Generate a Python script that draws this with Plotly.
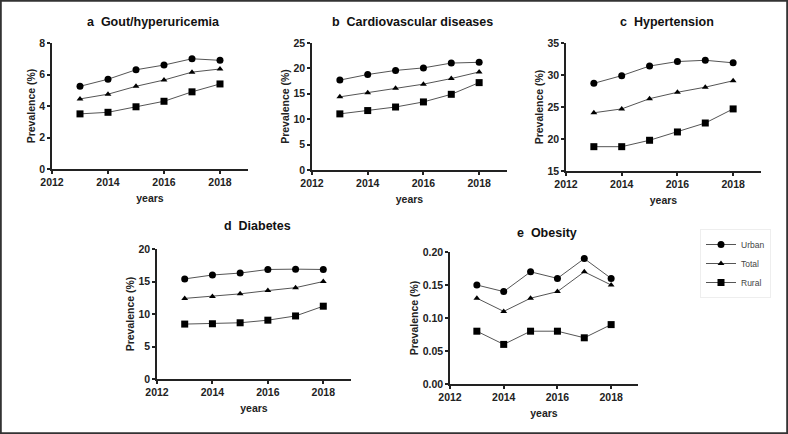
import plotly.graph_objects as go

years = [2013, 2014, 2015, 2016, 2017, 2018]
series_names = ["Urban", "Total", "Rural"]

gout_urban = [5.25, 5.7, 6.3, 6.6, 7.0, 6.9]
gout_total = [4.45, 4.75, 5.25, 5.65, 6.15, 6.35]
gout_rural = [3.5, 3.6, 3.95, 4.3, 4.9, 5.4]

cvd_urban = [17.7, 18.8, 19.6, 20.1, 21.05, 21.2]
cvd_total = [14.4, 15.2, 16.1, 16.9, 18.0, 19.3]
cvd_rural = [11.05, 11.7, 12.4, 13.4, 14.9, 17.2]

htn_urban = [28.7, 29.9, 31.4, 32.1, 32.3, 31.9]
htn_total = [24.1, 24.7, 26.3, 27.3, 28.1, 29.1]
htn_rural = [18.8, 18.8, 19.8, 21.1, 22.5, 24.7]

dia_urban = [15.4, 16.0, 16.3, 16.85, 16.9, 16.85]
dia_total = [12.4, 12.7, 13.1, 13.6, 14.05, 15.0]
dia_rural = [8.45, 8.5, 8.65, 9.05, 9.7, 11.2]

obe_urban = [0.15, 0.14, 0.17, 0.16, 0.19, 0.16]
obe_total = [0.13, 0.11, 0.13, 0.14, 0.17, 0.15]
obe_rural = [0.08, 0.06, 0.08, 0.08, 0.07, 0.09]

titles = ["<b>a  Gout/hyperuricemia</b>", "<b>b  Cardiovascular diseases</b>",
          "<b>c  Hypertension</b>", "<b>d  Diabetes</b>", "<b>e  Obesity</b>"]
panels = [
    (gout_urban, gout_total, gout_rural),
    (cvd_urban, cvd_total, cvd_rural),
    (htn_urban, htn_total, htn_rural),
    (dia_urban, dia_total, dia_rural),
    (obe_urban, obe_total, obe_rural),
]
y_ranges = [[0, 8], [0, 25], [15, 35], [0, 20], [0, 0.2]]
y_dticks = [2, 5, 5, 5, 0.05]
y_fmt = ["", "", "", "", ".2f"]

W, H = 788, 434
# pixel boxes (left, right, top, bottom)
boxes = [(52, 248, 43, 169), (312, 507, 43, 170), (566, 761, 43, 171),
         (157, 351, 249, 379), (450, 638, 252, 384)]
title_centers = [(153, 22), (412, 22), (667, 22), (257, 226), (547, 233)]

markers = ["circle", "triangle-up", "square"]
msizes = [7, 6, 7]

fig = go.Figure()
font_fam = "Liberation Sans, Arial, sans-serif"
for i, (vals, box) in enumerate(zip(panels, boxes)):
    xa = "x" if i == 0 else f"x{i+1}"
    ya = "y" if i == 0 else f"y{i+1}"
    for j, v in enumerate(vals):
        fig.add_trace(go.Scatter(
            x=years, y=v, mode="lines+markers", name=series_names[j],
            xaxis=xa, yaxis=ya, showlegend=(i == 4),
            line=dict(color="#555555", width=1),
            marker=dict(symbol=markers[j], size=msizes[j], color="black"),
        ))
    l, r, t, b = box
    axis_common = dict(showline=True, linecolor="#222222", linewidth=1.5,
                       ticks="outside", ticklen=3, tickcolor="#222222", tickwidth=1.5,
                       showgrid=False, zeroline=False, automargin=False,
                       tickfont=dict(family=font_fam, size=10.5, color="#222", weight="bold"))
    fig.layout[f"xaxis{'' if i == 0 else i+1}"] = dict(
        domain=[l / W, r / W], anchor=ya, range=[2012, 2019], tickvals=[2012, 2014, 2016, 2018],
        title=dict(text="<b>years</b>", font=dict(family=font_fam, size=10.5, color="#222"), standoff=7),
        **axis_common)
    fig.layout[f"yaxis{'' if i == 0 else i+1}"] = dict(
        domain=[1 - b / H, 1 - t / H], anchor=xa, range=y_ranges[i], dtick=y_dticks[i],
        tickformat=y_fmt[i],
        title=dict(text="<b>Prevalence (%)</b>", font=dict(family=font_fam, size=10.5, color="#222"), standoff=2),
        **axis_common)
    cx, cy = title_centers[i]
    fig.add_annotation(text=titles[i], xref="paper", yref="paper",
                       x=cx / W, y=1 - cy / H,
                       showarrow=False, xanchor="center", yanchor="middle",
                       font=dict(family=font_fam, size=12.5, color="#111"))

fig.add_shape(type="rect", xref="paper", yref="paper", x0=0.001, x1=0.999, y0=0.002, y1=0.998,
              line=dict(color="#333333", width=2))

fig.update_layout(
    width=W, height=H, margin=dict(l=0, r=0, t=0, b=0),
    paper_bgcolor="white", plot_bgcolor="white",
    legend=dict(x=700 / W, y=1 - 229 / H, xanchor="left", yanchor="top",
                bordercolor="#eeeeee", borderwidth=1, bgcolor="white",
                font=dict(family=font_fam, size=8.5, color="#444"),
                itemwidth=30, tracegroupgap=0),
)
fig.write_html("out.html", config={"displayModeBar": False},
               post_script="document.body.style.margin='0';document.body.style.overflow='hidden';")
